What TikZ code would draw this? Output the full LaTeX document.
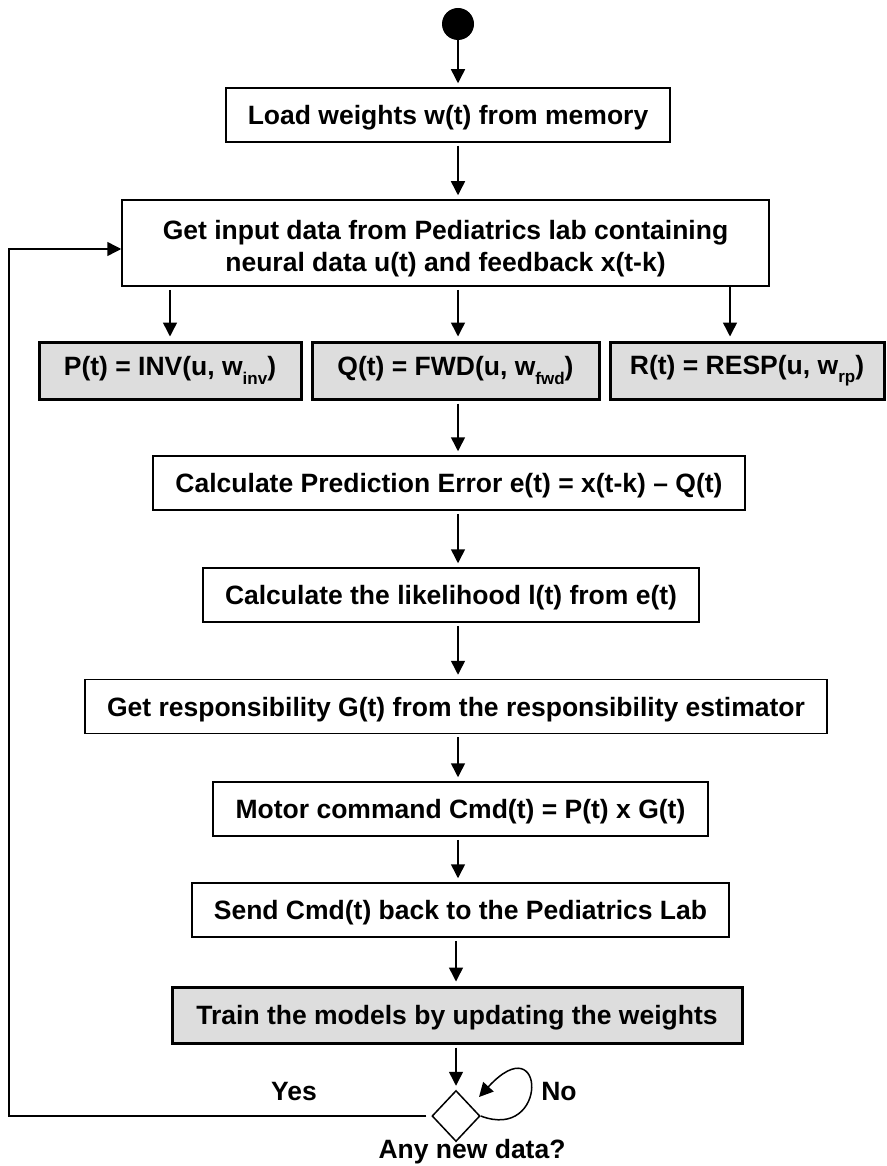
\documentclass[tikz,border=0pt]{standalone}
\usepackage{fontspec}
\setmainfont{Liberation Sans}
\usetikzlibrary{arrows.meta,shapes.geometric}
\definecolor{boxgray}{RGB}{221,221,221}
\newcommand\wsub[1]{\raisebox{-0.32em}{\fontsize{17}{17}\selectfont #1}}
\newcommand\dropby[2]{\raisebox{-#1}[\height][\depth]{#2}}
\begin{document}
\begin{tikzpicture}[x=1pt,y=-1pt,
  every node/.style={font=\fontsize{26.5}{32}\selectfont\bfseries},
  frame/.style={draw, line width=1.5pt, inner sep=0pt, align=center},
  box/.style={frame, text height=19pt, text depth=0pt},
  gbox/.style={frame, fill=boxgray, line width=3pt},
  arr/.style={line width=1.5pt, -{Triangle[length=14pt,width=14pt]},
              shorten >=4pt, shorten <=3pt},
]
\useasboundingbox (0,0) rectangle (886,1166);

% guide columns for the vertical connectors
\coordinate (col) at (458,0);
\coordinate (rcol) at (730,0);
\coordinate (fb) at (9,0);
\coordinate (noend) at (479,1097);

% start marker and process steps
\node[circle, fill=black, minimum size=32pt, inner sep=0pt] (start) at (458,24) {};
\node[box, minimum width=444pt, minimum height=54pt] (load) at (448,115)
  {Load weights w(t) from memory};
\node[frame, minimum width=647pt, minimum height=86pt] (input) at (445.5,243)
  {\dropby{6pt}{\begin{tabular}{@{}c@{}}Get input data from Pediatrics lab containing\\
   neural data u(t) and feedback x(t-k)\end{tabular}}};
\node[gbox, minimum width=262pt, minimum height=57pt] (pbox) at (170,370.5)
  {P(t) = INV(u, w\wsub{inv})};
\node[gbox, minimum width=287pt, minimum height=57pt] (qbox) at (455.5,370.5)
  {Q(t) = FWD(u, w\wsub{fwd})};
\node[gbox, minimum width=274pt, minimum height=57pt] (rbox) at (747,370.5)
  {R(t) = RESP(u, w\wsub{rp})};
\node[box, minimum width=592pt, minimum height=54pt] (calc) at (449,483)
  {Calculate Prediction Error e(t) = x(t-k) – Q(t)};
\node[box, minimum width=496pt, minimum height=54pt] (like) at (451,595)
  {Calculate the likelihood l(t) from e(t)};
\node[box, minimum width=742pt, minimum height=54pt] (resp) at (456,706.5)
  {Get responsibility G(t) from the responsibility estimator};
\node[box, minimum width=495pt, minimum height=54pt] (motor) at (460.5,809)
  {Motor command Cmd(t) = P(t) x G(t)};
\node[box, minimum width=537pt, minimum height=54pt] (send) at (460.5,910)
  {Send Cmd(t) back to the Pediatrics Lab};
\node[gbox, text height=19pt, text depth=0pt, minimum width=570pt,
      minimum height=56pt] (train) at (457,1015)
  {Train the models by updating the weights};
\node[diamond, draw, line width=1.5pt, minimum width=48pt, minimum height=51pt,
      inner sep=0pt] (dec) at (456,1116) {};
\node (yes) at (294,1092) {Yes};
\node (no) at (559,1092) {No};
\node (ask) at (472,1152) {Any new data?};

% connectors
\draw[arr, shorten <=0pt] (start.south) -- (col |- load.north);
\draw[arr] (col |- load.south) -- (col |- input.north);
\draw[arr] (input.south -| pbox) -- (pbox.north);
\draw[arr] (input.south -| col) -- (col |- qbox.north);
\draw[arr, shorten <=0pt] (input.south -| rcol) -- (rcol |- rbox.north);
\draw[arr] (col |- qbox.south) -- (col |- calc.north);
\draw[arr] (col |- calc.south) -- (col |- like.north);
\draw[arr] (col |- like.south) -- (col |- resp.north);
\draw[arr] (col |- resp.south) -- (col |- motor.north);
\draw[arr] (col |- motor.south) -- (col |- send.north);
\draw[arr] (send.south -| dec) -- (dec |- train.north);
\draw[arr] (dec |- train.south) -- (dec.north);
\draw[arr, shorten >=0pt, shorten <=5pt] (dec.west) -- (dec.west -| fb)
  |- ([yshift=-6pt]input.west);
\draw[arr, shorten >=0pt, shorten <=0pt] (dec.east)
  .. controls (549,1142) and (546,1024) .. (noend);
\end{tikzpicture}
\end{document}
